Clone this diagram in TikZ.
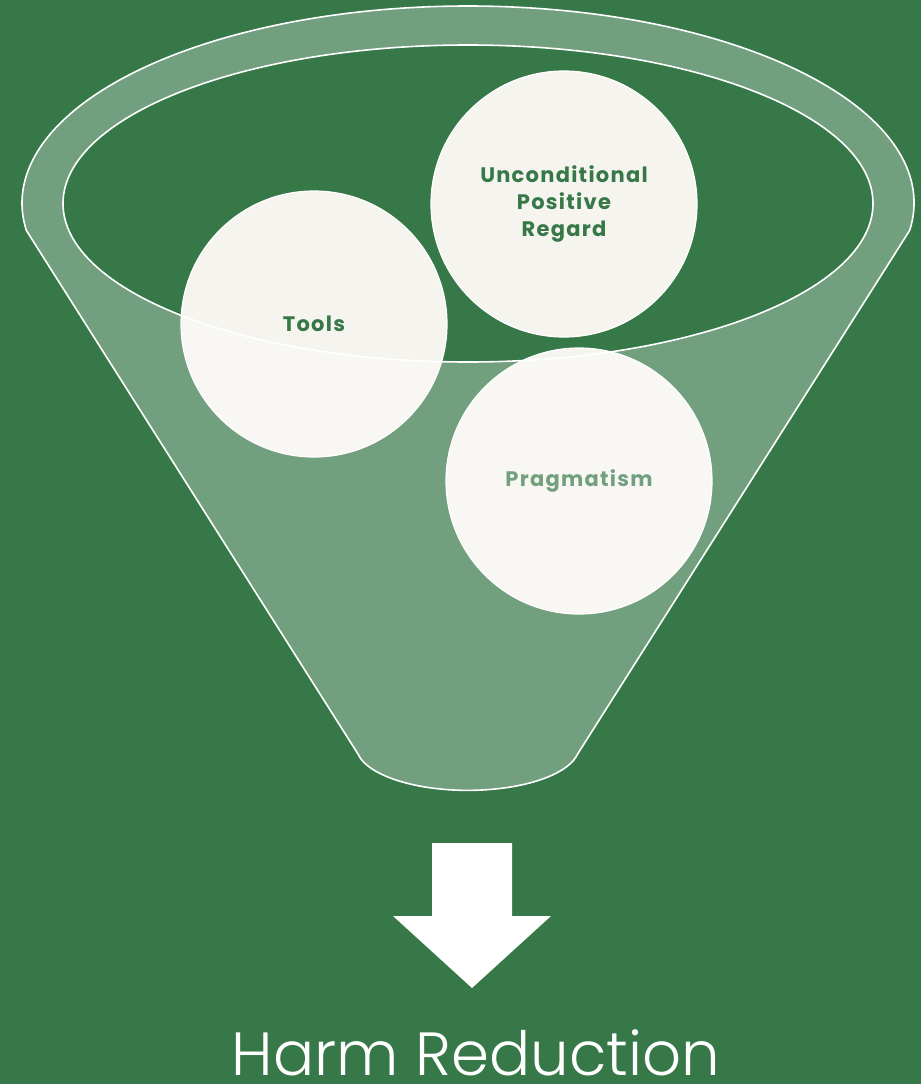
\documentclass[tikz,border=0pt]{standalone}
\usepackage{fontspec}
\usetikzlibrary{calc}
\setmainfont{Poppins}
\newfontfamily\ballfont{Poppins}[LetterSpace=6]
\newfontfamily\labelfont{Poppins Light}
\definecolor{bggreen}{HTML}{367848}
\definecolor{cream}{HTML}{F6F4EE}
\tikzset{
  ball/.style={circle, minimum size=266pt, inner sep=0pt, fill=cream, draw=white,
    line width=1.2pt, text=bggreen, align=center,
    font=\ballfont\fontsize{21}{27}\selectfont\bfseries},
  rimline/.style={draw=white, line width=1.6pt},
}
\begin{document}
\begin{tikzpicture}[x=1pt,y=-1pt]
  % page and background
  \useasboundingbox (0,0) rectangle (921,1084);
  \fill[bggreen] (0,0) rectangle (921,1084);

  % the three values that go into the funnel
  \node[ball] (tools) at (314,324) {Tools};
  \node[ball] (upr) at (564,204) {Unconditional\\Positive\\Regard};
  \node[ball] (prag) at (579,481) {Pragmatism};

  % funnel body: translucent cone with an open elliptical mouth
  \coordinate (ltop) at ($(468,203)+(172:446 and 197)$);
  \coordinate (rtop) at ($(468,203)+(8:446 and 197)$);
  \coordinate (lbot) at (358,754);
  \coordinate (rbot) at (580,754);
  \fill[white, fill opacity=0.3, even odd rule]
    (rtop) arc[start angle=8, end angle=-188, x radius=446, y radius=197]
    -- (lbot) arc[start angle=170, end angle=10, x radius=111.5, y radius=44]
    -- cycle
    (468,203.5) ellipse[x radius=405, y radius=158.5];
  \draw[rimline]
    (rtop) arc[start angle=8, end angle=-188, x radius=446, y radius=197]
    -- (lbot) arc[start angle=170, end angle=10, x radius=111.5, y radius=44]
    -- cycle;
  \draw[rimline] (468,203.5) ellipse[x radius=405, y radius=158.5];

  % outcome arrow and label
  \fill[white] (432,843) -- (512,843) -- (512,916) -- (551,916) -- (472,988)
    -- (393,916) -- (432,916) -- cycle;
  \node[anchor=base, text=white, font=\labelfont\fontsize{61}{70}\selectfont, inner sep=0pt]
    (outcome) at (476,1075) {Harm Reduction};
\end{tikzpicture}
\end{document}
